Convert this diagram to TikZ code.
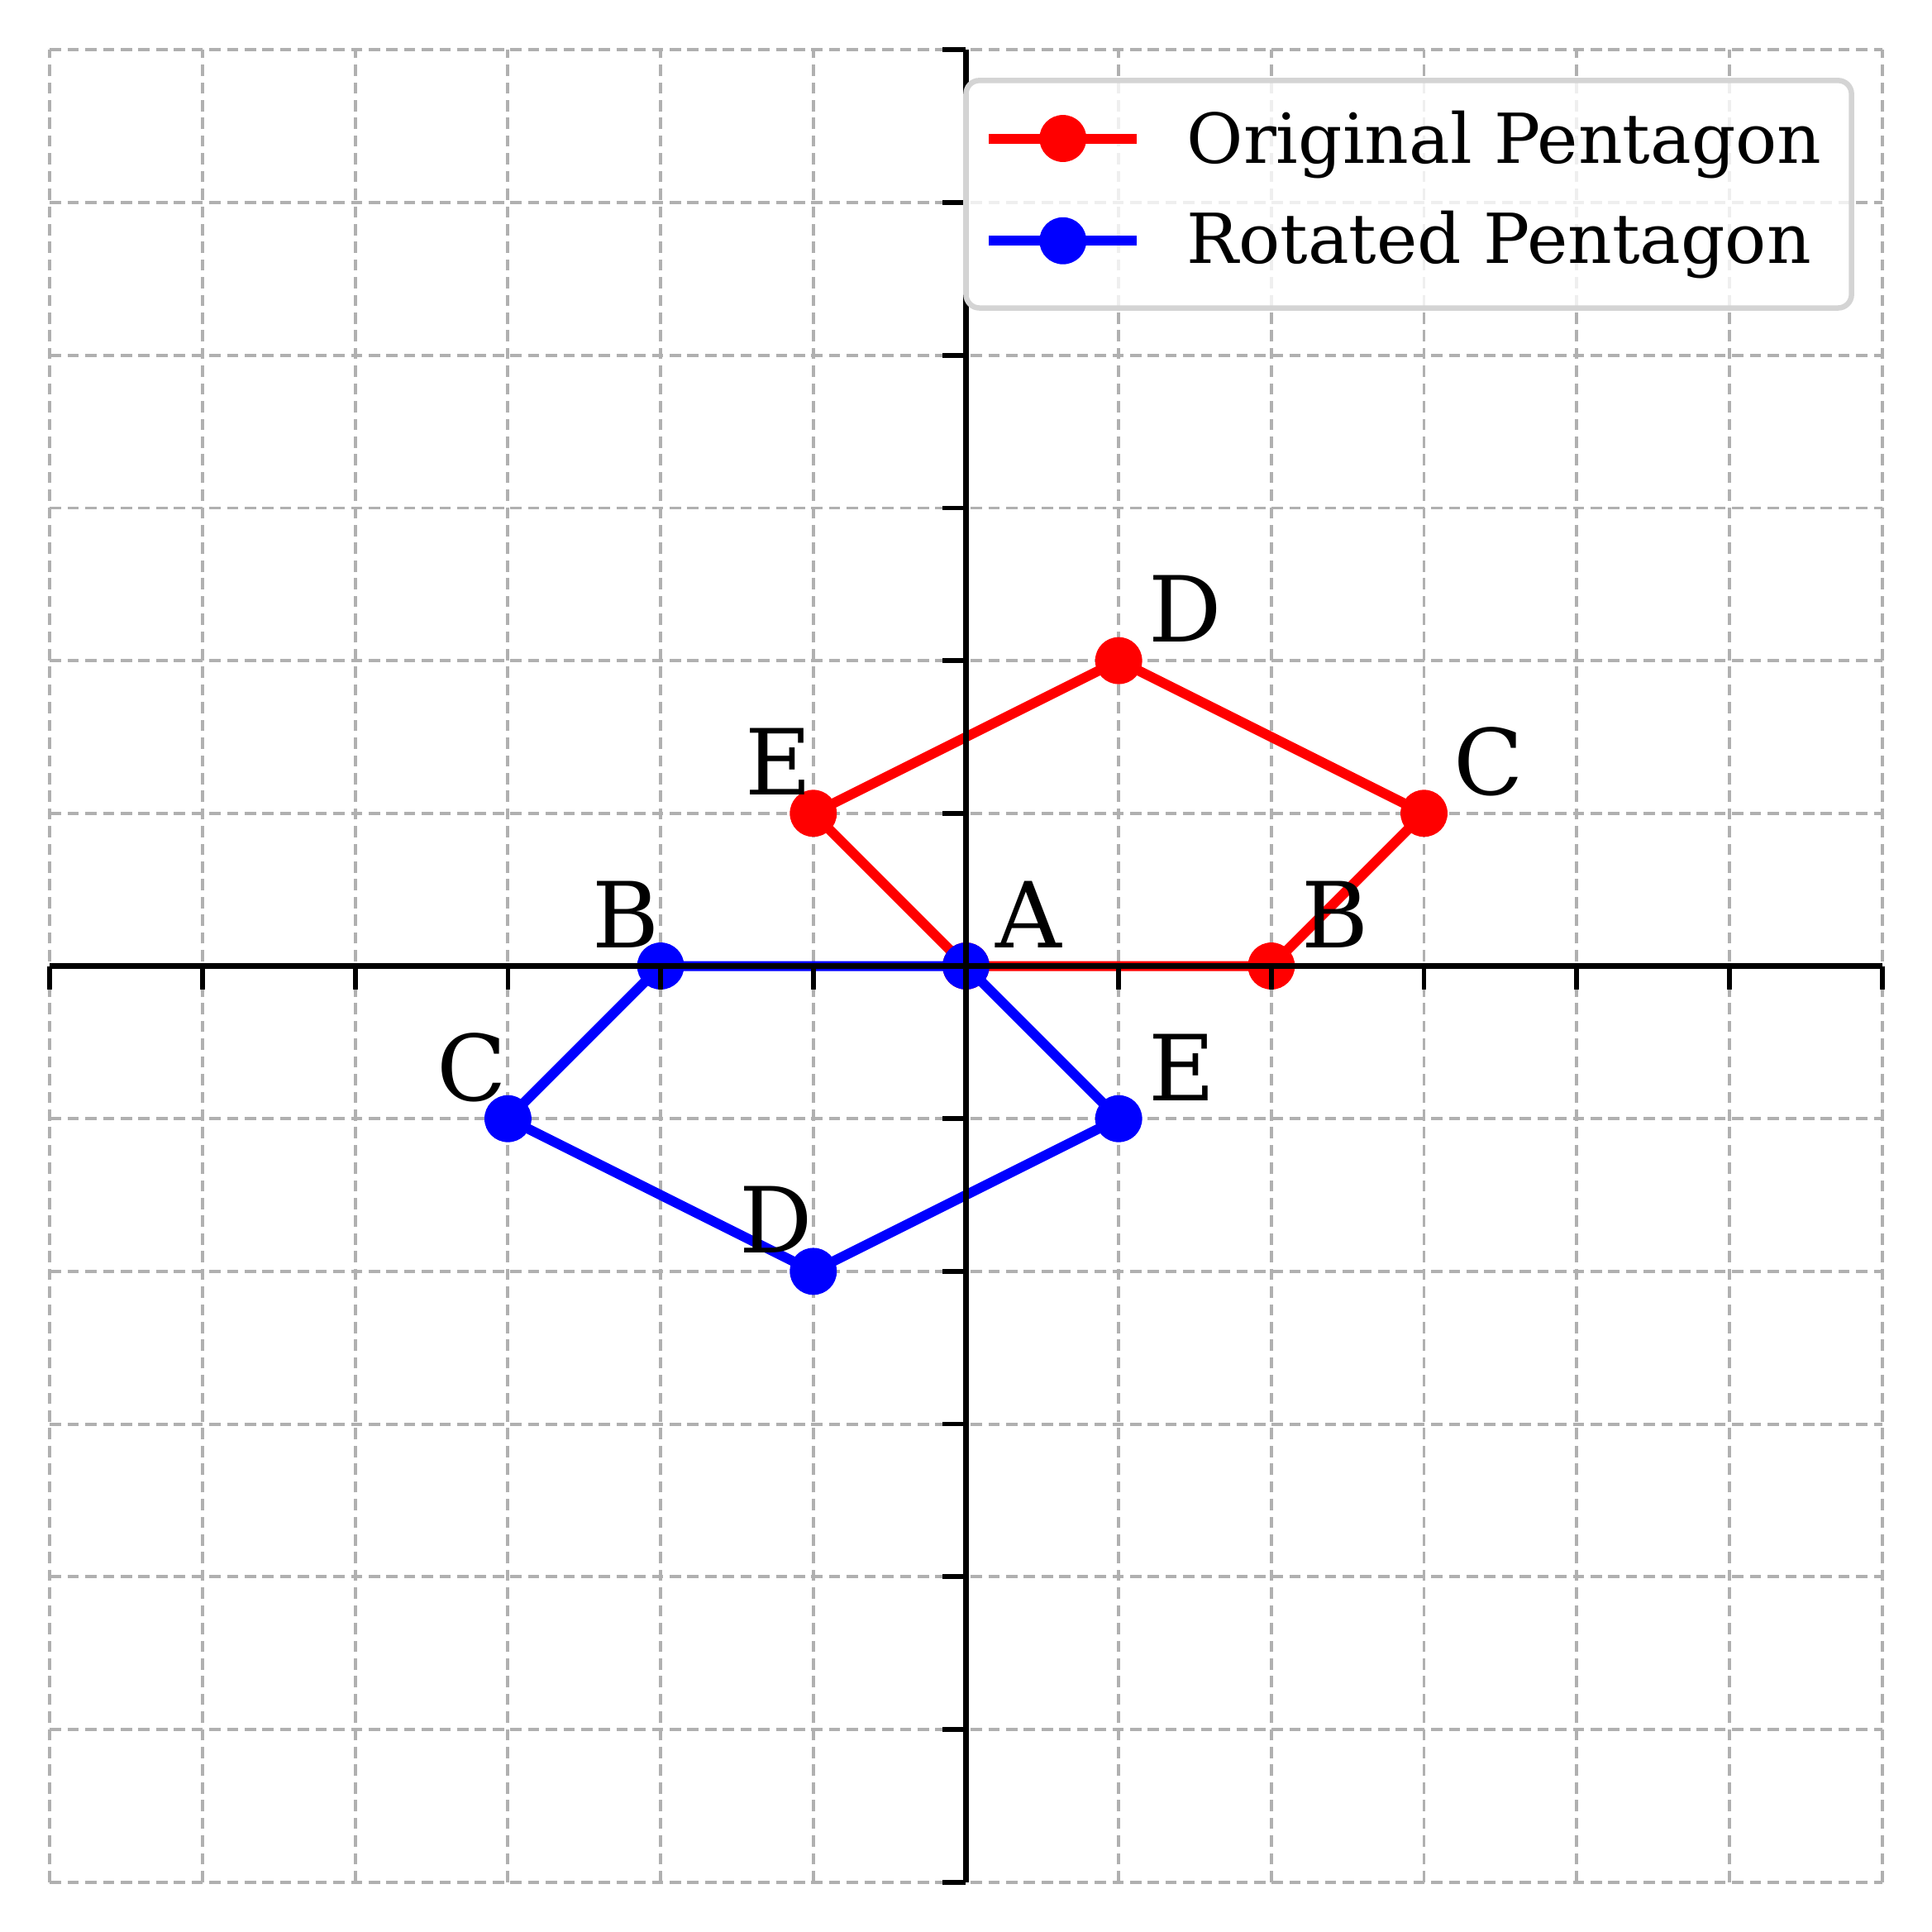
\documentclass[tikz,border=0pt]{standalone}
\usepackage{fontspec}
\setmainfont{DejaVu Serif}
\usetikzlibrary{positioning,calc}
\definecolor{gridgray}{RGB}{176,176,176}
\definecolor{legendgray}{RGB}{212,212,212}
\definecolor{origred}{RGB}{255,0,0}
\definecolor{rotblue}{RGB}{0,0,255}
\tikzset{
  gridline/.style={draw=gridgray,line width=0.6pt,dash pattern=on 2.1pt off 1.2pt},
  spine/.style={draw=black,line width=1pt},
  ticklen/.style={draw=black,line width=0.9pt},
  poly/.style={draw=#1,line width=1.85pt,line join=round},
  dot/.style={fill=#1},
  vlabel/.style={font=\fontsize{17}{20}\selectfont,inner sep=0pt},
  legendbox/.style={draw=legendgray,line width=1pt,fill=white,fill opacity=0.8,
                    rounded corners=2.5pt},
  legendtext/.style={font=\fontsize{12.85}{16}\selectfont,inner sep=0pt,anchor=base west},
}
\begin{document}
\begin{tikzpicture}
    \useasboundingbox (-6.327,-6.327) rectangle (6.327,6.327);
    \fill[white] (-6.327,-6.327) rectangle (6.327,6.327);
    % grid
    \foreach \k in {-6,...,6} {
      \draw[gridline] (\k,-6) -- (\k,6);
      \draw[gridline] (-6,\k) -- (6,\k);
    }
    % original pentagon
    \coordinate (oA) at (0,0);
    \coordinate (oB) at (2,0);
    \coordinate (oC) at (3,1);
    \coordinate (oD) at (1,2);
    \coordinate (oE) at (-1,1);
    \draw[poly=origred] (oA) -- (oB) -- (oC) -- (oD) -- (oE) -- cycle;
    \foreach \p in {oA,oB,oC,oD,oE}
      \fill[dot=origred] (\p) circle (0.154);
    % rotated pentagon
    \coordinate (rA) at (0,0);
    \coordinate (rB) at (-2,0);
    \coordinate (rC) at (-3,-1);
    \coordinate (rD) at (-1,-2);
    \coordinate (rE) at (1,-1);
    \draw[poly=rotblue] (rA) -- (rB) -- (rC) -- (rD) -- (rE) -- cycle;
    \foreach \p in {rA,rB,rC,rD,rE}
      \fill[dot=rotblue] (\p) circle (0.154);
    % axes
    \draw[spine] (-6,0) -- (6,0);
    \draw[spine] (0,-6) -- (0,6);
    \foreach \k in {-6,...,6} {
      \draw[ticklen] (\k,0) -- (\k,-0.152);
      \draw[ticklen] (0,\k) -- (-0.152,\k);
    }
    % vertex labels
    \foreach \p/\t in {oA/A,oB/B,oC/C,oD/D,rE/E}
      \node[vlabel,anchor=base west] (lbl-\p) at ([shift={(0.19,0.12)}]\p) {\t};
    \foreach \p/\t in {oE/E,rB/B,rC/C,rD/D}
      \node[vlabel,anchor=base east] (lbl-\p) at ([shift={(0,0.12)}]\p) {\t};
    % legend
    \draw[legendbox] (0.0,4.31) rectangle (5.80,5.80);
    \coordinate (lg1a) at (0.15,5.42);
    \coordinate (lg1b) at (1.12,5.42);
    \coordinate (lg2a) at (0.15,4.75);
    \coordinate (lg2b) at (1.12,4.75);
    \draw[poly=origred] (lg1a) -- (lg1b);
    \fill[dot=origred] ($(lg1a)!0.5!(lg1b)$) circle (0.154);
    \draw[poly=rotblue] (lg2a) -- (lg2b);
    \fill[dot=rotblue] ($(lg2a)!0.5!(lg2b)$) circle (0.154);
    \node[legendtext] (leg-orig) at (1.44,5.26) {Original Pentagon};
    \node[legendtext] (leg-rot) at (1.44,4.60) {Rotated Pentagon};
\end{tikzpicture}
\end{document}
